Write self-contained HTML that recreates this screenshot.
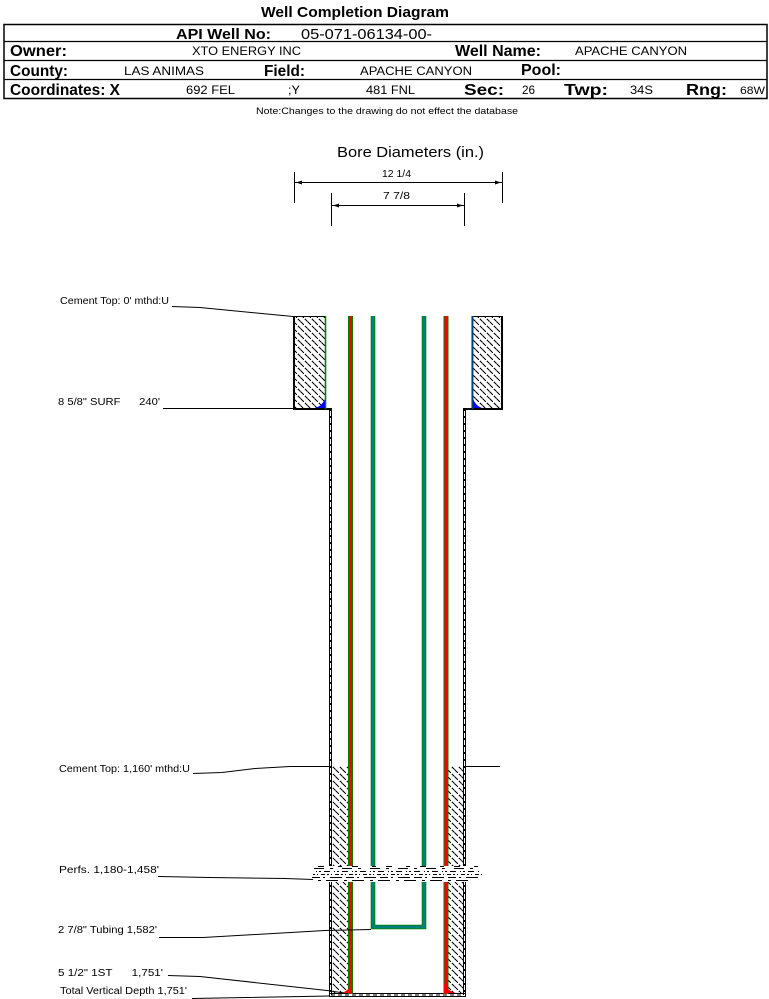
<!DOCTYPE html>
<html>
<head>
<meta charset="utf-8">
<style>
  html,body{margin:0;padding:0;background:#fff;}
  svg{display:block;}
  text{font-family:"Liberation Sans",Arial,sans-serif;fill:#000;}
  .b{font-weight:bold;}
</style>
</head>
<body>
<svg width="769" height="999" viewBox="0 0 769 999" xmlns="http://www.w3.org/2000/svg">
  <defs>
    <pattern id="h" width="7" height="7" patternUnits="userSpaceOnUse">
      <path d="M0,0 L7,7 M-1,6 L1,8 M6,-1 L8,1" stroke="#000" stroke-width="1" fill="none" shape-rendering="crispEdges" stroke-dasharray="4,1.5"/>
    </pattern>
  </defs>
  <rect x="0" y="0" width="769" height="999" fill="#fff"/>

  <!-- Title -->
  <text x="261" y="17" font-size="15" class="b" textLength="188" lengthAdjust="spacingAndGlyphs">Well Completion Diagram</text>

  <!-- Header box -->
  <rect x="4" y="24.5" width="763" height="74" fill="none" stroke="#000" stroke-width="1.5"/>
  <line x1="4" y1="41.5" x2="767" y2="41.5" stroke="#000" stroke-width="1.2"/>
  <line x1="4" y1="60.5" x2="767" y2="60.5" stroke="#000" stroke-width="1.2"/>
  <line x1="4" y1="79.5" x2="767" y2="79.5" stroke="#000" stroke-width="1.2"/>

  <text x="176" y="39" font-size="15" class="b" textLength="95" lengthAdjust="spacingAndGlyphs">API Well No:</text>
  <text x="301" y="39" font-size="15" textLength="131" lengthAdjust="spacingAndGlyphs">05-071-06134-00-</text>

  <text x="10" y="56" font-size="16" class="b" textLength="57" lengthAdjust="spacingAndGlyphs">Owner:</text>
  <text x="192" y="55" font-size="12" textLength="109" lengthAdjust="spacingAndGlyphs">XTO ENERGY INC</text>
  <text x="455" y="56" font-size="16" class="b" textLength="86" lengthAdjust="spacingAndGlyphs">Well Name:</text>
  <text x="575" y="55" font-size="12" textLength="112" lengthAdjust="spacingAndGlyphs">APACHE CANYON</text>

  <text x="10" y="76" font-size="16" class="b" textLength="58" lengthAdjust="spacingAndGlyphs">County:</text>
  <text x="124" y="75" font-size="12" textLength="80" lengthAdjust="spacingAndGlyphs">LAS ANIMAS</text>
  <text x="264" y="76" font-size="16" class="b" textLength="41" lengthAdjust="spacingAndGlyphs">Field:</text>
  <text x="360" y="75" font-size="12" textLength="112" lengthAdjust="spacingAndGlyphs">APACHE CANYON</text>
  <text x="521" y="75" font-size="16" class="b" textLength="40" lengthAdjust="spacingAndGlyphs">Pool:</text>

  <text x="10" y="95" font-size="16" class="b" textLength="110" lengthAdjust="spacingAndGlyphs">Coordinates: X</text>
  <text x="186" y="94" font-size="12" textLength="49" lengthAdjust="spacingAndGlyphs">692 FEL</text>
  <text x="288" y="94" font-size="12" textLength="12" lengthAdjust="spacingAndGlyphs">;Y</text>
  <text x="366" y="94" font-size="12" textLength="49" lengthAdjust="spacingAndGlyphs">481 FNL</text>
  <text x="464" y="95" font-size="16" class="b" textLength="40" lengthAdjust="spacingAndGlyphs">Sec:</text>
  <text x="522" y="94" font-size="12" textLength="13" lengthAdjust="spacingAndGlyphs">26</text>
  <text x="564" y="95" font-size="16" class="b" textLength="44" lengthAdjust="spacingAndGlyphs">Twp:</text>
  <text x="630" y="94" font-size="12" textLength="23" lengthAdjust="spacingAndGlyphs">34S</text>
  <text x="686" y="95" font-size="16" class="b" textLength="41" lengthAdjust="spacingAndGlyphs">Rng:</text>
  <text x="740" y="94" font-size="11" textLength="25" lengthAdjust="spacingAndGlyphs">68W</text>

  <text x="256" y="114" font-size="9" textLength="262" lengthAdjust="spacingAndGlyphs">Note:Changes to the drawing do not effect the database</text>

  <!-- Bore diameters -->
  <text x="337" y="157" font-size="15" textLength="147" lengthAdjust="spacingAndGlyphs">Bore Diameters (in.)</text>
  <text x="382" y="177" font-size="10" textLength="29" lengthAdjust="spacingAndGlyphs">12 1/4</text>
  <text x="383" y="199" font-size="10" textLength="27" lengthAdjust="spacingAndGlyphs">7 7/8</text>
  <g stroke="#000" stroke-width="1">
    <line x1="294.5" y1="172" x2="294.5" y2="203"/>
    <line x1="502.5" y1="172" x2="502.5" y2="203"/>
    <line x1="295" y1="182.5" x2="502" y2="182.5"/>
    <line x1="331.5" y1="193" x2="331.5" y2="226"/>
    <line x1="464.5" y1="193" x2="464.5" y2="226"/>
    <line x1="332" y1="205.5" x2="464" y2="205.5"/>
  </g>
  <polygon points="296,182.5 302,180.5 302,184.5" fill="#000"/>
  <polygon points="501,182.5 495,180.5 495,184.5" fill="#000"/>
  <polygon points="333,205.5 339,203.5 339,207.5" fill="#000"/>
  <polygon points="463,205.5 457,203.5 457,207.5" fill="#000"/>

  <!-- Upper cement blocks -->
  <rect x="295" y="317" width="30" height="91" fill="url(#h)"/>
  <rect x="473" y="317" width="29" height="91" fill="url(#h)"/>
  <g stroke="#000">
    <line x1="294" y1="316" x2="294" y2="410" stroke-width="2"/>
    <line x1="293" y1="316.5" x2="326" y2="316.5" stroke-width="1"/>
    <line x1="293" y1="409" x2="332" y2="409" stroke-width="2"/>
    <line x1="502" y1="316" x2="502" y2="410" stroke-width="2"/>
    <line x1="472" y1="316.5" x2="503" y2="316.5" stroke-width="1"/>
    <line x1="463" y1="409" x2="503" y2="409" stroke-width="2"/>
  </g>

  <!-- Lower cement -->
  <rect x="332" y="766" width="16" height="227" fill="url(#h)"/>
  <rect x="448" y="766" width="15" height="227" fill="url(#h)"/>

  <!-- Bore walls (7 7/8) -->
  <g stroke="#000" stroke-width="1">
    <line x1="329.5" y1="409" x2="329.5" y2="997"/>
    <line x1="331.5" y1="409" x2="331.5" y2="995"/>
    <line x1="330.5" y1="409" x2="330.5" y2="995" stroke-dasharray="2,5"/>
    <line x1="463.5" y1="409" x2="463.5" y2="995"/>
    <line x1="465.5" y1="409" x2="465.5" y2="997"/>
    <line x1="464.5" y1="409" x2="464.5" y2="995" stroke-dasharray="2,5"/>
    <line x1="329" y1="993.5" x2="466" y2="993.5"/>
    <line x1="329" y1="996.5" x2="466" y2="996.5"/>
    <line x1="331" y1="995" x2="464" y2="995" stroke-dasharray="4,3"/>
  </g>

  <!-- Surface casing -->
  <line x1="325.5" y1="316" x2="325.5" y2="409" stroke="#008000" stroke-width="1.6"/>
  <line x1="472" y1="316" x2="472" y2="409" stroke="#0000ff" stroke-width="1"/>
  <line x1="473" y1="316" x2="473" y2="409" stroke="#008000" stroke-width="1"/>
  <path d="M325,399 L325,408 L315,408 Q322,406 325,399 Z" fill="#0000ff"/>
  <path d="M473,399 L473,408 L482,408 Q476,406 473,399 Z" fill="#0000ff"/>

  <!-- Production casing (red) -->
  <g fill="none">
    <line x1="350.5" y1="316" x2="350.5" y2="994" stroke="#008000" stroke-width="5"/>
    <line x1="350.5" y1="316" x2="350.5" y2="994" stroke="#ff0000" stroke-width="3"/>
    <line x1="446" y1="316" x2="446" y2="994" stroke="#008000" stroke-width="5"/>
    <line x1="446" y1="316" x2="446" y2="994" stroke="#ff0000" stroke-width="3"/>
  </g>
  <path d="M352,984 L352,993 L342,993 Q349,990 352,984 Z" fill="#ff0000"/>
  <path d="M444,984 L444,993 L455,993 Q447,990 444,984 Z" fill="#ff0000"/>

  <!-- Tubing -->
  <path d="M373,316 V927 H424 V316" fill="none" stroke="#008000" stroke-width="4.6" stroke-linejoin="miter"/>
  <path d="M373,316 V927 H424 V316" fill="none" stroke="#007f7f" stroke-width="2.8" stroke-linejoin="miter"/>

  <!-- Perfs band -->
  <rect x="312" y="866" width="170" height="16" fill="#fff"/>
  <g stroke="#000" stroke-width="1" fill="none">
    <line x1="318" y1="866.5" x2="480" y2="866.5" stroke-dasharray="6,14,4,10"/>
    <line x1="314" y1="868.5" x2="481" y2="868.5" stroke-dasharray="10,6,3,9"/>
    <line x1="316" y1="871.5" x2="480" y2="871.5" stroke-dasharray="1,2,2,3,6,4"/>
    <line x1="313" y1="874.5" x2="482" y2="874.5" stroke-dasharray="2,2,1,3,4,2"/>
    <line x1="312" y1="877.5" x2="478" y2="877.5" stroke-dasharray="8,3,2,5,12,4"/>
    <line x1="318" y1="880.5" x2="470" y2="880.5" stroke-dasharray="3,5,12,6"/>
  </g>

  <!-- Leader lines -->
  <g stroke="#000" stroke-width="1" fill="none">
    <polyline points="172,306.5 200,307.5 293,316.5"/>
    <line x1="163" y1="408.5" x2="293" y2="408.5"/>
    <polyline points="193,773.5 222,772.5 255,768.5 290,766.5 332,766.5"/>
    <line x1="466" y1="766.5" x2="500" y2="766.5"/>
    <polyline points="158,876.5 210,877.5 285,878.5 313,879.5"/>
    <polyline points="159,937.5 203,937.5 325,930.5 371,929.5"/>
    <polyline points="168,975.5 200,976.5 327,990.5 344,993"/>
    <polyline points="192,998.5 246,997.5 330,996"/>
  </g>

  <!-- Left labels -->
  <text x="60" y="304" font-size="10" textLength="109" lengthAdjust="spacingAndGlyphs">Cement Top: 0' mthd:U</text>
  <text x="58" y="405" font-size="10" textLength="102" lengthAdjust="spacingAndGlyphs" xml:space="preserve">8 5/8" SURF      240'</text>
  <text x="59" y="772" font-size="10" textLength="131" lengthAdjust="spacingAndGlyphs">Cement Top: 1,160' mthd:U</text>
  <text x="59" y="873" font-size="10" textLength="100" lengthAdjust="spacingAndGlyphs">Perfs. 1,180-1,458'</text>
  <text x="58" y="933" font-size="10" textLength="99" lengthAdjust="spacingAndGlyphs">2 7/8" Tubing 1,582'</text>
  <text x="58" y="976" font-size="10" textLength="105" lengthAdjust="spacingAndGlyphs" xml:space="preserve">5 1/2" 1ST      1,751'</text>
  <text x="60" y="994" font-size="10" textLength="127" lengthAdjust="spacingAndGlyphs">Total Vertical Depth 1,751'</text>
</svg>
</body>
</html>
